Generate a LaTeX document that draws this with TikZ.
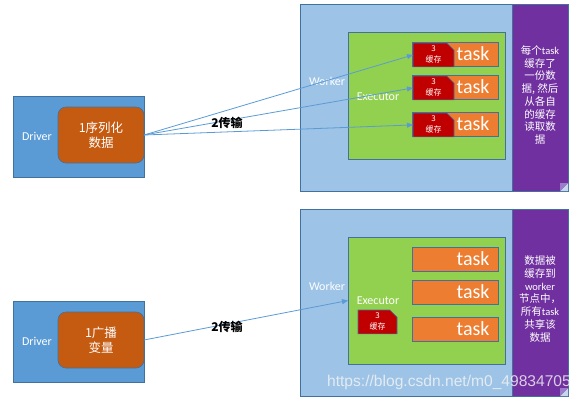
\documentclass[tikz,border=0pt]{standalone}
\usepackage{fontspec}
\setmainfont{Carlito}
\newfontfamily\cjk{Noto Sans CJK SC}
\newfontfamily\wmfont{Liberation Sans}
\usetikzlibrary{shapes.misc,arrows.meta}
\definecolor{edgeblue}{HTML}{41719C}
\definecolor{driverblue}{HTML}{5B9BD5}
\definecolor{serorange}{HTML}{C55A11}
\definecolor{workerblue}{HTML}{9DC3E6}
\definecolor{notepurple}{HTML}{7030A0}
\definecolor{execgreen}{HTML}{92D050}
\definecolor{taskorange}{HTML}{ED7D31}
\definecolor{cachered}{HTML}{C00000}
\definecolor{flap}{HTML}{9A7CC8}
\definecolor{fold}{HTML}{C9D6EE}
\begin{document}
\begin{tikzpicture}[x=1pt,y=-1pt,
  every node/.style={inner sep=0pt, outer sep=0pt},
  box/.style={draw=edgeblue, line width=0.6pt, anchor=north west},
  driverbox/.style={box, fill=driverblue, minimum width=131pt, minimum height=81pt},
  serbox/.style={box, fill=serorange, rounded corners=8pt, minimum width=86pt, minimum height=56pt,
    text=white, align=center, font=\cjk\fontsize{12.5}{15}\selectfont},
  workerbox/.style={box, fill=workerblue, minimum width=212pt, minimum height=187pt},
  notebox/.style={box, fill=notepurple, minimum width=56pt, minimum height=187pt},
  execbox/.style={box, fill=execgreen, minimum width=157pt, minimum height=127pt},
  taskbox/.style={box, fill=taskorange, minimum height=24pt, text width=69pt, inner xsep=8.5pt,
    align=right, text=white, font=\fontsize{20}{20}\selectfont},
  cachebox/.style={box, fill=cachered, chamfered rectangle, chamfered rectangle corners=north east,
    chamfered rectangle xsep=4pt, text=white, align=center, font=\cjk\fontsize{8}{11}\selectfont},
  lbl/.style={text=white, font=\fontsize{12}{14}\selectfont},
  notetext/.style={text=white, align=center, font=\cjk\fontsize{10.5}{12.7}\selectfont},
  xfer/.style={font=\cjk\bfseries\fontsize{12}{14}\selectfont},
  link/.style={draw=driverblue, line width=0.8pt, -{Triangle[length=6pt,width=5pt]}}]
\useasboundingbox (0,0) rectangle (583,400);

% top: serialized data copied to each task
\node[driverbox] (driver1) at (13,96) {};
\node[lbl] at (37,136) {Driver};
\node[serbox] (ser1) at (58,107) {1序列化\\数据};
\node[workerbox] (worker1) at (300,4) {};
\node[notebox] (note1) at (512,4) {};
\node[notetext] at (540,95) {每个{\rmfamily task}\\缓存了\\一份数\\据, 然后\\从各自\\的缓存\\读取数\\据};
\node[lbl] at (327,81) {Worker};
\node[execbox] (exec1) at (348,32) {};
\node[lbl] at (378,97) {Executor};
\foreach \n/\y in {a/42,b/75,c/112} {
  \node[taskbox] (task1\n) at (412,\y) {task};
  \node[cachebox, minimum width=41pt, minimum height=21pt] (cache1\n) at (413,\y+1) {3\\缓存};
  \draw[link] (ser1.east) -- (cache1\n.west);
}
\node[xfer] at (227,123) {2传输};

% bottom: broadcast variable kept once per worker
\node[driverbox] (driver2) at (13,301) {};
\node[lbl] at (37,341) {Driver};
\node[serbox] (ser2) at (58,312) {1广播\\变量};
\node[workerbox] (worker2) at (300,209) {};
\node[notebox] (note2) at (512,209) {};
\node[notetext] at (540,299) {数据被\\缓存到\\{\rmfamily worker}\\节点中，\\所有{\rmfamily task}\\共享该\\数据};
\node[lbl] at (327,286) {Worker};
\node[execbox] (exec2) at (348,237) {};
\node[lbl] at (378,301) {Executor};
\foreach \n/\y in {a/247,b/280,c/317}
  \node[taskbox] (task2\n) at (412,\y) {task};
\node[cachebox, minimum width=39pt, minimum height=20pt] (cache2) at (358,310) {3\\缓存};
\draw[link] (ser2.east) -- (exec2.west);
\node[xfer] at (227,327) {2传输};

% folded corners
\foreach \m in {note1,note2} {
  \fill[fold] ([xshift=-8pt]\m.south east) -- (\m.south east) -- ([yshift=8pt]\m.south east) -- cycle;
  \fill[flap] ([xshift=-8pt]\m.south east) -- ([yshift=8pt]\m.south east) -- ([xshift=-8pt,yshift=8pt]\m.south east) -- cycle;
}

\node[font=\wmfont\fontsize{15.6}{16}\selectfont, text=white!92!gray, opacity=0.8] at (449,382) {https://blog.csdn.net/m0\_49834705};
\end{tikzpicture}
\end{document}
